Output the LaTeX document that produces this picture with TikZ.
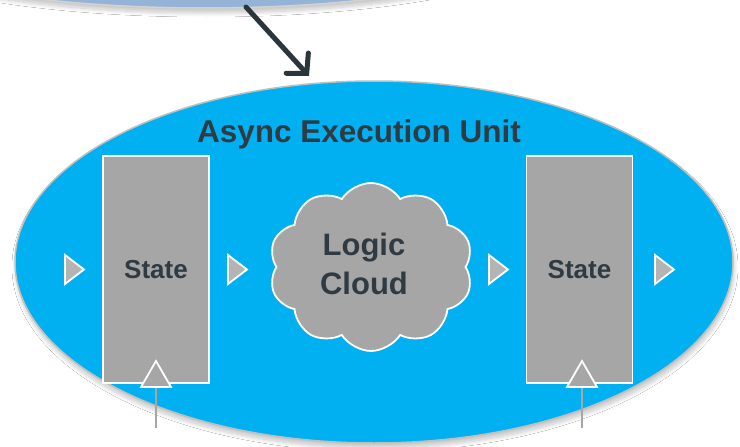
\documentclass[tikz,border=0pt]{standalone}
\usepackage{fontspec}
\setmainfont{Liberation Sans}
\usetikzlibrary{shapes.geometric,shapes.symbols,arrows.meta,shadows.blur}
\definecolor{unitblue}{HTML}{00B0F0}
\definecolor{topblue}{HTML}{95B3D7}
\definecolor{boxgrey}{HTML}{A6A6A6}
\definecolor{trigrey}{HTML}{B4B4B4}
\definecolor{textdark}{HTML}{2F3A42}
\definecolor{rimgrey}{HTML}{BFBFBF}
\definecolor{arrowdark}{HTML}{2B353C}
\tikzset{
  softshadow/.style={blur shadow={shadow xshift=1pt, shadow yshift=-5pt, shadow blur radius=4pt, shadow blur steps=12, shadow opacity=22}},
  bigoval/.style={ellipse, inner sep=0pt, fill=unitblue, draw=rimgrey, line width=1.5pt, softshadow},
  topoval/.style={ellipse, inner sep=0pt, fill=topblue, draw=rimgrey!70!white, line width=1.5pt, softshadow},
  statebox/.style={rectangle, minimum width=106pt, minimum height=227pt, inner sep=0pt, fill=boxgrey, draw=white, line width=1.5pt, text=textdark, font=\bfseries\fontsize{26}{30}\selectfont},
  logicblob/.style={cloud, cloud puffs=10, cloud puff arc=115, cloud ignores aspect, minimum width=204pt, minimum height=168pt, inner sep=0pt, fill=boxgrey, draw=white, line width=1.8pt},
  bigtext/.style={text=textdark, font=\bfseries\fontsize{31}{39}\selectfont, align=center},
  titletext/.style={text=textdark, font=\bfseries\fontsize{31.5}{39}\selectfont},
  flowtri/.style={fill=trigrey, draw=white, line width=1.8pt, line join=miter},
  clocktri/.style={fill=boxgrey, draw=white, line width=1.8pt, line join=miter},
  clockline/.style={draw=boxgrey, line width=2pt},
  mainarrow/.style={draw=arrowdark, line width=5pt, line cap=round, -{Straight Barb[length=14pt, width=30pt, line cap=round]}}
}
\begin{document}
\begin{tikzpicture}[x=1pt, y=-1pt]
  \useasboundingbox (0,0) rectangle (740,447);
  \clip (0,0) rectangle (740,447);
  \fill[white] (0,0) rectangle (740,447);
  % source oval (cut off at the top)
  \node[topoval, minimum width=724pt, minimum height=160pt] (src) at (205,-72) {};
  % execution unit
  \node[bigoval, minimum width=718pt, minimum height=362pt] (unit) at (374,262) {};
  % arrow
  \coordinate (arrowstart) at (246,7);
  \coordinate (arrowend) at (309,76);
  \draw[mainarrow] (arrowstart) -- (arrowend);
  % title
  \node[titletext, anchor=base] (title) at (359,142) {Async Execution Unit};
  % state boxes
  \node[statebox] (state1) at (156,269.5) {State};
  \node[statebox] (state2) at (579.5,269.5) {State};
  % logic cloud
  \node[logicblob] (logic) at (371,267) {};
  \node[bigtext] (logictext) at (364,264) {Logic\\Cloud};
  % flow triangles
  \path[flowtri] (65,255) -- (84,269.5) -- (65,284) -- cycle;
  \path[flowtri] (228,255) -- (247,269.5) -- (228,284) -- cycle;
  \path[flowtri] (489,255) -- (508,269.5) -- (489,284) -- cycle;
  \path[flowtri] (655,255) -- (674,269.5) -- (655,284) -- cycle;
  % clock inputs
  \coordinate (clk1) at (156,428);
  \coordinate (clk2) at (582,428);
  \draw[clockline] (clk1) -- (156,386);
  \draw[clockline] (clk2) -- (582,386);
  \path[clocktri] (141,387) -- (156,361) -- (171,387) -- cycle;
  \path[clocktri] (567,387) -- (582,361) -- (597,387) -- cycle;
\end{tikzpicture}
\end{document}
